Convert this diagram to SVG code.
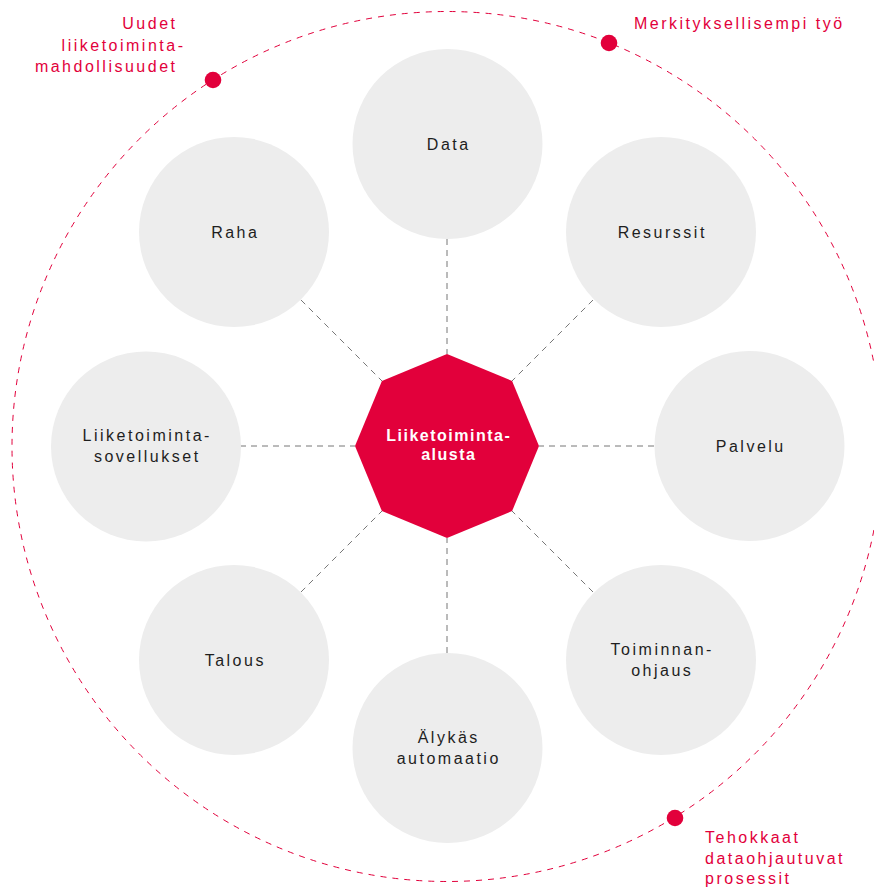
<svg xmlns="http://www.w3.org/2000/svg" width="874" height="887" viewBox="0 0 874 887">
<style>
.node circle{fill:#EDEDED}
.lbl{font-family:"Liberation Sans",Arial,sans-serif;font-size:16px;letter-spacing:2.5px;fill:#1E1E1E;text-anchor:middle}
.red{font-family:"Liberation Sans",Arial,sans-serif;font-size:16px;letter-spacing:2.5px;fill:#E2003B}
.conn line{stroke:#777;stroke-width:1;stroke-dasharray:6 5}
.dot{fill:#E2003B}
</style>
<rect width="874" height="887" fill="#fff"/>
<circle id="outer-ring" cx="447" cy="446.5" r="435" fill="none" stroke="#E2003B" stroke-width="1" stroke-dasharray="6 6"/>
<g id="connectors" class="conn">
<line x1="447" y1="239" x2="447" y2="354"/>
<line x1="593" y1="300" x2="512" y2="381"/>
<line x1="654" y1="446" x2="539" y2="446"/>
<line x1="593" y1="592" x2="512" y2="511"/>
<line x1="447" y1="653" x2="447" y2="538"/>
<line x1="301" y1="592" x2="382" y2="511"/>
<line x1="240" y1="446" x2="355" y2="446"/>
<line x1="301" y1="300" x2="382" y2="381"/>
</g>
<g id="node-data" class="node"><circle cx="447.5" cy="144" r="95"/><text class="lbl" x="448.75" y="149.5">Data</text></g>
<g id="node-resurssit" class="node"><circle cx="661" cy="232" r="95"/><text class="lbl" x="662.25" y="237.5">Resurssit</text></g>
<g id="node-palvelu" class="node"><circle cx="749.5" cy="446" r="95"/><text class="lbl" x="750.75" y="451.5">Palvelu</text></g>
<g id="node-toiminnanohjaus" class="node"><circle cx="661" cy="660" r="95"/><text class="lbl" x="662.25" y="654.5">Toiminnan-</text><text class="lbl" x="662.25" y="675.5">ohjaus</text></g>
<g id="node-automaatio" class="node"><circle cx="447.5" cy="748" r="95"/><text class="lbl" x="448.75" y="742.5">Älykäs</text><text class="lbl" x="448.75" y="763.5">automaatio</text></g>
<g id="node-talous" class="node"><circle cx="234" cy="660" r="95"/><text class="lbl" x="235.25" y="665.5">Talous</text></g>
<g id="node-sovellukset" class="node"><circle cx="146" cy="446.5" r="95"/><text class="lbl" x="147.25" y="441">Liiketoiminta-</text><text class="lbl" x="147.25" y="462">sovellukset</text></g>
<g id="node-raha" class="node"><circle cx="234" cy="232" r="95"/><text class="lbl" x="235.25" y="237.5">Raha</text></g>
<g id="node-alusta">
<polygon points="539,446 512.1,511.1 447,538 381.9,511.1 355,446 381.9,380.9 447,354 512.1,380.9" fill="#E2003B"/>
<text class="lbl" x="448.75" y="441" style="fill:#fff;font-weight:bold;letter-spacing:1.5px">Liiketoiminta-</text>
<text class="lbl" x="448.75" y="460" style="fill:#fff;font-weight:bold;letter-spacing:1.5px">alusta</text>
</g>
<g id="label-liiketoimintamahdollisuudet">
<circle class="dot" cx="213" cy="80" r="8.3"/>
<text class="red" x="177.5" y="29" text-anchor="end">Uudet</text>
<text class="red" x="185.5" y="51" text-anchor="end">liiketoiminta-</text>
<text class="red" x="177.5" y="72" text-anchor="end">mahdollisuudet</text>
</g>
<g id="label-merkityksellisempi">
<circle class="dot" cx="609" cy="43" r="8.3"/>
<text class="red" x="634" y="29">Merkityksellisempi työ</text>
</g>
<g id="label-prosessit">
<circle class="dot" cx="675" cy="818" r="8.3"/>
<text class="red" x="705" y="843">Tehokkaat</text>
<text class="red" x="705" y="864">dataohjautuvat</text>
<text class="red" x="705" y="884">prosessit</text>
</g>
</svg>
